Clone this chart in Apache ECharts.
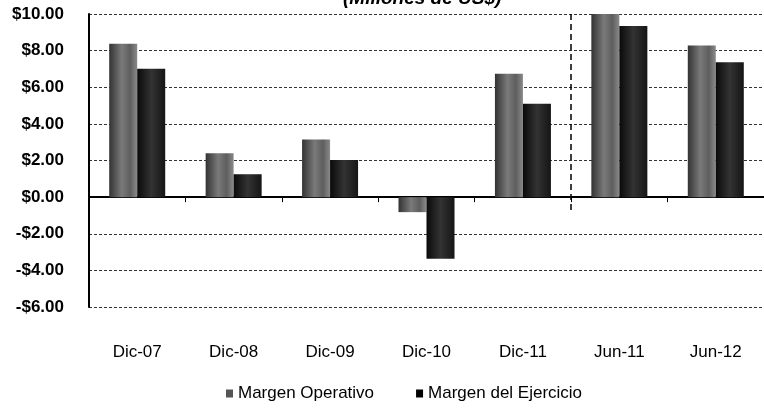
<!DOCTYPE html>
<html style="height: 100%;width:100%">
    <head>
        <meta charset="utf-8">
    </head>
<body style="height: 100%; width:100%; margin:0">
        <div id="chart-panel" style="height: 408px;width: 764px"></div>
        <script type="text/javascript" src="https://fastly.jsdelivr.net/npm/echarts@6.0.0/dist/echarts.min.js"></script>
        <script type="text/javascript">
// periodos
var periodos = ['Dic-07', 'Dic-08', 'Dic-09', 'Dic-10', 'Dic-11', 'Jun-11', 'Jun-12'];
// Millones de US$
var margenOperativo = [8.37, 2.39, 3.15, -0.82, 6.74, 10.0, 8.28];
var margenEjercicio = [7.01, 1.25, 2.03, -3.37, 5.10, 9.35, 7.37];
// separador entre anual y semestral (limite de categoria)
var separador = [5];
var ticksY = [-6, -4, -2, 0, 2, 4, 6, 8, 10];

var dom = document.getElementById("chart-panel");
var myChart = echarts.init(dom);
var fuente = '"Liberation Sans", Arial, sans-serif';

var grisOp = new echarts.graphic.LinearGradient(0, 0, 1, 0, [
    {offset: 0, color: '#333'},
    {offset: 0.45, color: '#7a7a7a'},
    {offset: 0.75, color: '#5e5e5e'},
    {offset: 1, color: '#8a8a8a'}
]);
var negroEj = new echarts.graphic.LinearGradient(0, 0, 1, 0, [
    {offset: 0, color: '#0a0a0a'},
    {offset: 0.5, color: '#333'},
    {offset: 1, color: '#151515'}
]);

function fmt(v) {
    return (v < 0 ? '-$' : '$') + Math.abs(v).toFixed(2);
}

var option = {
    backgroundColor: '#fff',
    animation: false,
    title: {
        text: '(Millones de US$)',
        left: 338,
        top: -16,
        textStyle: {
            fontFamily: fuente,
            fontSize: 19,
            fontWeight: 'bold',
            fontStyle: 'italic',
            color: '#000'
        }
    },
    legend: {
        top: 380,
        left: 221,
        itemGap: 42,
        itemWidth: 7,
        itemHeight: 8,
        icon: 'rect',
        textStyle: {
            fontFamily: fuente,
            fontSize: 17,
            color: '#000'
        },
        data: [
            {name: 'Margen Operativo', itemStyle: {color: '#555'}},
            {name: 'Margen del Ejercicio', itemStyle: {color: '#000'}}
        ]
    },
    grid: {
        left: 89,
        right: -6,
        top: 14,
        bottom: 101
    },
    xAxis: [{
        type: 'category',
        data: periodos,
        axisLine: {onZero: true, lineStyle: {color: '#000', width: 2}},
        axisTick: {show: true, length: 5, lineStyle: {color: '#000'}},
        axisLabel: {show: false}
    }, {
        type: 'category',
        data: periodos,
        position: 'bottom',
        axisLine: {show: false, onZero: false},
        axisTick: {show: false},
        axisLabel: {
            margin: 37,
            fontFamily: fuente,
            fontSize: 17,
            color: '#000'
        }
    }, {
        type: 'value',
        min: 0,
        max: periodos.length,
        show: false
    }],
    yAxis: {
        type: 'value',
        min: ticksY[0],
        max: ticksY[ticksY.length - 1],
        interval: 2,
        offset: 3,
        axisLine: {show: true, lineStyle: {color: '#000', width: 2}},
        axisTick: {show: false},
        axisLabel: {
            margin: 22,
            fontFamily: fuente,
            fontSize: 17,
            fontWeight: 'bold',
            color: '#000',
            formatter: fmt
        },
        splitLine: {
            show: true,
            lineStyle: {color: '#333', type: [3, 2], width: 1}
        }
    },
    series: [{
        name: 'Margen Operativo',
        type: 'bar',
        xAxisIndex: 0,
        barWidth: 28,
        barGap: '0%',
        itemStyle: {color: grisOp},
        data: margenOperativo
    }, {
        name: 'Margen del Ejercicio',
        type: 'bar',
        xAxisIndex: 0,
        barWidth: 28,
        barGap: '0%',
        itemStyle: {color: negroEj},
        data: margenEjercicio
    }, {
        type: 'line',
        xAxisIndex: 2,
        data: [],
        silent: true,
        markLine: {
            symbol: 'none',
            label: {show: false},
            lineStyle: {color: '#000', type: [6, 4], width: 1.5},
            data: separador.map(function (x) {
                return [{coord: [x, ticksY[ticksY.length - 1]]}, {coord: [x, -0.7]}];
            })
        }
    }]
};

myChart.setOption(option);
 </script>
</body>
</html>
